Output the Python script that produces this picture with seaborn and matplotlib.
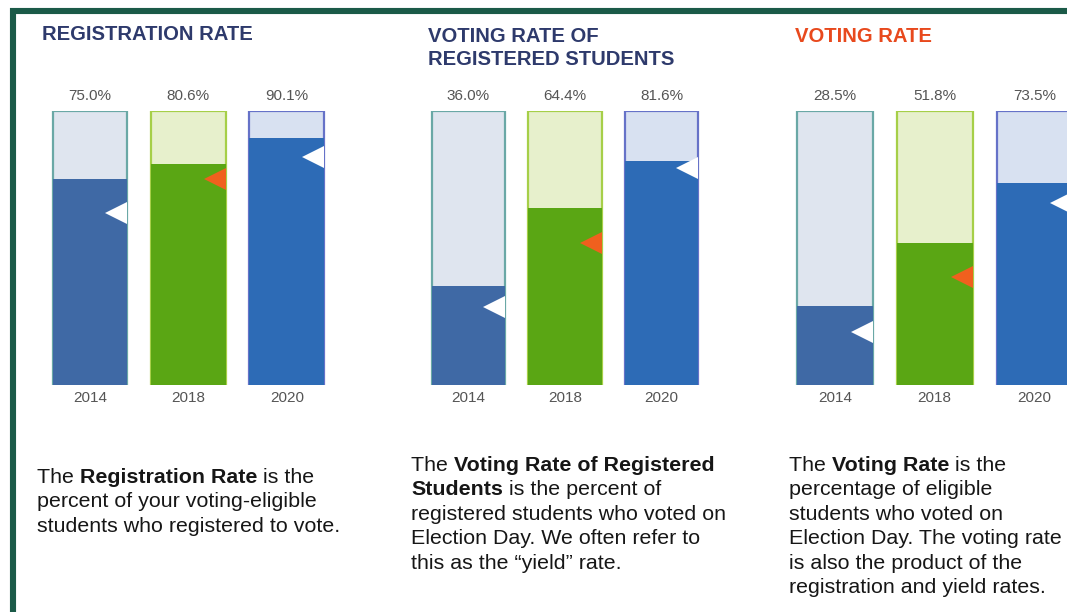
import matplotlib
matplotlib.use("Agg")
import matplotlib.pyplot as plt
import matplotlib.transforms as mtransforms
from matplotlib.patches import Rectangle
import seaborn as sns
import pandas as pd

# ---------------- data ----------------
years = ["2014", "2018", "2020"]
registration_rate = [75.0, 80.6, 90.1]
voting_rate_registered = [36.0, 64.4, 81.6]
voting_rate = [28.5, 51.8, 73.5]
# comparison markers (triangles)
registration_marker = [62.5, 74.9, 82.9]
voting_registered_marker = [28.4, 51.6, 78.9]
voting_marker = [19.3, 39.3, 66.2]

titles = ["REGISTRATION RATE", "VOTING RATE OF\nREGISTERED STUDENTS", "VOTING RATE"]
descriptions = [
    [[("The ", False), ("Registration Rate", True), (" is the", False)],
     [("percent of your voting-eligible", False)],
     [("students who registered to vote.", False)]],
    [[("The ", False), ("Voting Rate of Registered", True)],
     [("Students", True), (" is the percent of", False)],
     [("registered students who voted on", False)],
     [("Election Day. We often refer to", False)],
     [("this as the \u201cyield\u201d rate.", False)]],
    [[("The ", False), ("Voting Rate", True), (" is the", False)],
     [("percentage of eligible", False)],
     [("students who voted on", False)],
     [("Election Day. The voting rate", False)],
     [("is also the product of the", False)],
     [("registration and yield rates.", False)]],
]

# ---------------- style ----------------
sns.set_style("white")
plt.rcParams["font.family"] = ["Liberation Sans", "DejaVu Sans"]

W, H = 1067, 612
fig = plt.figure(figsize=(W / 100, H / 100), dpi=100)
fig.patch.set_facecolor("white")

dark_colors = ["#3f69a5", "#5aa614", "#2d6bb6"]
light_colors = ["#dfe5ef", "#e7f0cc", "#d8e1f1"]
edge_colors = ["#6aa8a6", "#a6cf48", "#6672c8"]
marker_colors = ["white", "#f0601e", "white"]

values_list = [registration_rate, voting_rate_registered, voting_rate]
markers_list = [registration_marker, voting_registered_marker, voting_marker]

# axes extents in pixels (left, right); bar area from y=110.5 to 384.5
ax_x = [(40.8, 336.0), (420.0, 710.0), (784.8, 1084.6)]
top_px, bot_px = 110.5, 384.5

title_pos = [(42, [40]), (428, [41.7, 65.0]), (795, [41.7])]
title_colors = ["#2e3a6c", "#2e3a6c", "#e8491d"]

desc_pos = [(37, 483), (411, 471), (789, 471)]
line_step = 24.4
desc_size = 15.4

for k in range(3):
    l, r = ax_x[k]
    ax = fig.add_axes([l / W, 1 - bot_px / H, (r - l) / W, (bot_px - top_px) / H])
    ax.set_facecolor("none")
    df = pd.DataFrame({"year": years, "value": values_list[k], "full": [100.0] * 3,
                       "marker": markers_list[k]})
    sns.barplot(data=df, x="year", y="full", hue="year", palette=light_colors,
                width=0.76, legend=False, ax=ax, linewidth=1.6, saturation=1)
    for c, ec in zip(ax.containers, edge_colors):
        for p in c:
            p.set_edgecolor(ec)
    sns.barplot(data=df, x="year", y="value", hue="year", palette=dark_colors,
                width=0.76, legend=False, ax=ax, linewidth=0, saturation=1)
    ax.set_xlim(-0.5, 2.5)
    ax.set_ylim(0, 100)
    for s in ax.spines.values():
        s.set_visible(False)
    ax.set_yticks([])
    ax.set_ylabel("")
    ax.set_xlabel("")
    ax.tick_params(axis="x", length=0, pad=4.5, labelsize=11, labelcolor="#555555")

    # triangles pointing left, base on the right edge of the bar
    ms = 16
    off = mtransforms.ScaledTranslation(-ms / 2 / 72, 0, fig.dpi_scale_trans)
    for i in range(3):
        ax.plot([i + 0.38], [markers_list[k][i]], marker="<", markersize=ms,
                color=marker_colors[i], markeredgewidth=0, linestyle="none",
                transform=ax.transData + off, clip_on=False, zorder=5)

    # percent labels above bars
    for i in range(3):
        ax.annotate(f"{values_list[k][i]:.1f}%", xy=(i, 100), xytext=(0, 10.4),
                    textcoords="offset points", ha="center", va="center",
                    fontsize=11, color="#555555", annotation_clip=False)

    # titles
    tx, tys = title_pos[k]
    for line, ty in zip(titles[k].split("\n"), tys):
        fig.text(tx / W, 1 - ty / H, line, fontsize=14.6, fontweight="bold",
                 color=title_colors[k], ha="left", va="baseline")

# rich description text
renderer = fig.canvas.get_renderer()


def seg_width(s, bold):
    t1 = fig.text(0, 0, s + "|", fontsize=desc_size, fontweight="bold" if bold else "normal")
    t2 = fig.text(0, 0, "|", fontsize=desc_size, fontweight="bold" if bold else "normal")
    w = t1.get_window_extent(renderer).width - t2.get_window_extent(renderer).width
    t1.remove()
    t2.remove()
    return w


for k in range(3):
    x0, y0 = desc_pos[k]
    for j, line in enumerate(descriptions[k]):
        x = x0
        y = y0 + j * line_step
        for s, bold in line:
            fig.text(x / W, 1 - y / H, s, fontsize=desc_size,
                     fontweight="bold" if bold else "normal",
                     color="#161616", ha="left", va="baseline")
            x += seg_width(s, bold)

# dark green frame (left and top visible)
frame = Rectangle((13 / W, -0.1), 1.2, 1 - 11 / H + 0.1, transform=fig.transFigure,
                  fill=False, edgecolor="#1b5a48", linewidth=4.4, zorder=10)
fig.add_artist(frame)

fig.savefig("out.png", dpi=100, facecolor="white")
